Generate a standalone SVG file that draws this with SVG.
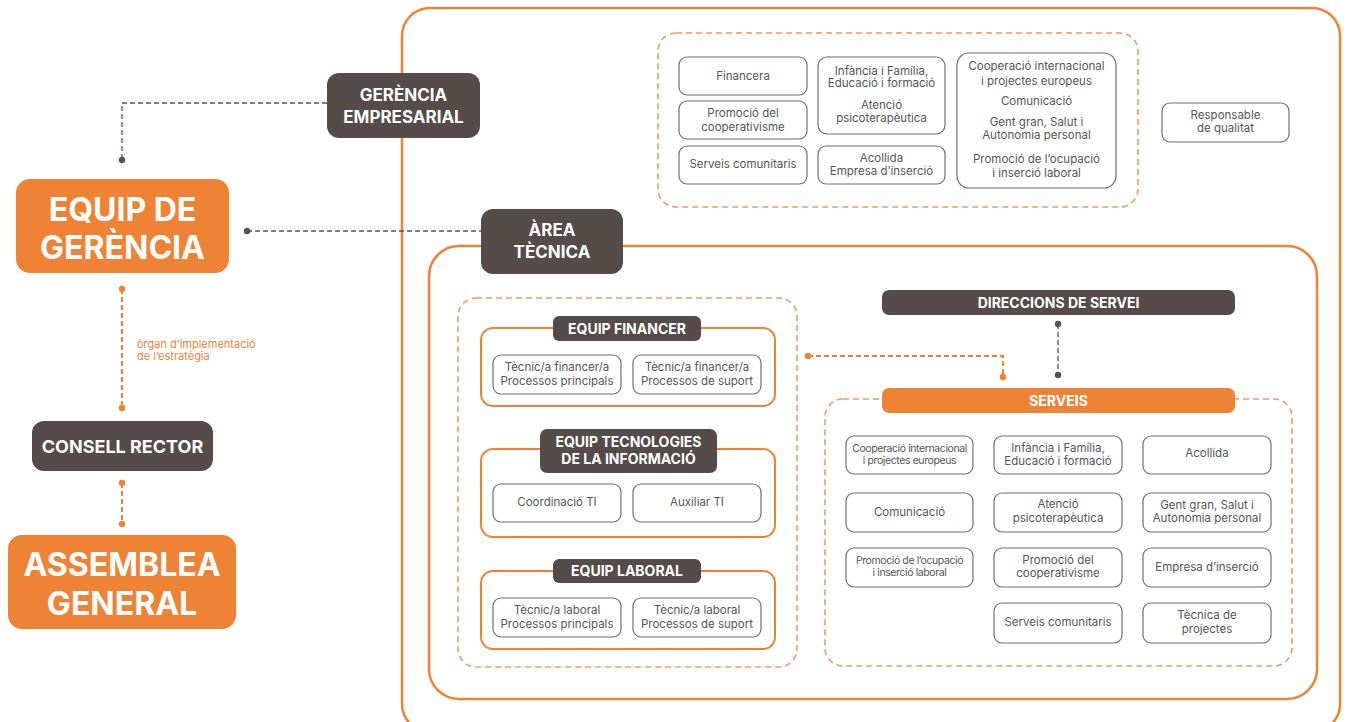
<svg xmlns="http://www.w3.org/2000/svg" width="1349" height="722" viewBox="0 0 1349 722">
<style>
text{font-family:Inter,"Noto Sans","Liberation Sans",sans-serif}
.frame{fill:none;stroke:#EE8336;stroke-width:2.5}
.team{fill:#fff;stroke:#EE8336;stroke-width:2}
.dgrp{fill:none;stroke:#F19A62;stroke-width:1.6;stroke-dasharray:6 4}
.dark{fill:#554B48}
.org{fill:#EE8336}
.box{fill:#fff;stroke:#6f6f6f;stroke-width:1.2}
.big{fill:#fff;font-weight:700;font-size:32px;text-anchor:middle}
.hd{fill:#fff;font-weight:700;font-size:17px;text-anchor:middle}
.lb{fill:#fff;font-weight:700;font-size:14px;text-anchor:middle}
.t{fill:#555;font-size:11.5px;text-anchor:middle}
.ts{fill:#555;font-size:10.5px;text-anchor:middle;letter-spacing:-0.4px}
.cg{fill:none;stroke:#5a5250;stroke-width:1.3;stroke-dasharray:5 3}
.co{fill:none;stroke:#EE8336;stroke-width:2;stroke-dasharray:5 3}
.dg{fill:#5a5250}
.do{fill:#EE8336}
</style>

<!-- frames -->
<rect class="frame" x="402" y="8" width="938" height="724" rx="28"/>
<rect class="frame" x="429" y="246" width="888" height="453" rx="30"/>
<rect class="dgrp" x="658" y="33" width="480" height="174" rx="18"/>
<rect class="dgrp" x="458" y="298" width="339" height="369" rx="18"/>
<rect class="dgrp" x="825" y="399" width="467" height="267" rx="18"/>

<!-- connectors -->
<g id="connectors">
<path class="cg" d="M327,103 H122 V160"/>
<circle class="dg" cx="122" cy="160" r="3.2"/>
<path class="cg" d="M247,231 H481"/>
<circle class="dg" cx="247" cy="231" r="3.2"/>
<path class="co" d="M122,289 V408"/>
<circle class="do" cx="122" cy="289" r="3.2"/>
<circle class="do" cx="122" cy="408" r="3.2"/>
<path class="co" d="M122,483 V524"/>
<circle class="do" cx="122" cy="483" r="3.2"/>
<circle class="do" cx="122" cy="524" r="3.2"/>
<path class="cg" d="M1058,324 V375"/>
<circle class="dg" cx="1058" cy="324" r="3.2"/>
<circle class="dg" cx="1058" cy="375" r="3.2"/>
<path class="co" d="M808,356 H1003 V377"/>
<circle class="do" cx="808" cy="356" r="3.2"/>
<circle class="do" cx="1003" cy="377" r="3.2"/>
<text x="137" y="348" style="fill:#EE8336;font-size:11px">òrgan d’implementació</text>
<text x="137" y="360" style="fill:#EE8336;font-size:11px">de l’estratègia</text>
</g>

<!-- left column -->
<g id="gerencia-empresarial">
<rect class="dark" x="327" y="73" width="153" height="65" rx="12"/>
<text class="hd" x="403.5" y="101">GERÈNCIA</text>
<text class="hd" x="403.5" y="123">EMPRESARIAL</text>
</g>
<g id="equip-gerencia">
<rect class="org" x="16" y="179" width="213" height="94" rx="14"/>
<text class="big" x="122.5" y="221">EQUIP DE</text>
<text class="big" x="122.5" y="259">GERÈNCIA</text>
</g>
<g id="consell-rector">
<rect class="dark" x="32" y="421" width="181" height="50" rx="12"/>
<text class="hd" x="122.5" y="452.5" style="font-size:18px">CONSELL RECTOR</text>
</g>
<g id="assemblea-general">
<rect class="org" x="8" y="535" width="228" height="94" rx="14"/>
<text class="big" x="122" y="576">ASSEMBLEA</text>
<text class="big" x="122" y="615">GENERAL</text>
</g>
<g id="area-tecnica">
<rect class="dark" x="481" y="209" width="142" height="65" rx="12"/>
<text class="hd" x="552" y="236">ÀREA</text>
<text class="hd" x="552" y="258">TÈCNICA</text>
</g>

<!-- top group -->
<g id="top-financera"><rect class="box" x="679" y="57" width="128" height="38" rx="8"/><text class="t" x="743" y="80">Financera</text></g>
<g id="top-promocio"><rect class="box" x="679" y="101" width="128" height="38" rx="8"/><text class="t" x="743" y="117">Promoció del</text><text class="t" x="743" y="131">cooperativisme</text></g>
<g id="top-serveis"><rect class="box" x="679" y="146" width="128" height="38" rx="8"/><text class="t" x="743" y="168">Serveis comunitaris</text></g>
<g id="top-infancia"><rect class="box" x="818" y="57" width="127" height="77" rx="9"/>
<text class="t" x="881.5" y="75">Infància i Família,</text><text class="t" x="881.5" y="87">Educació i formació</text>
<text class="t" x="881.5" y="109">Atenció</text><text class="t" x="881.5" y="122">psicoterapèutica</text></g>
<g id="top-acollida"><rect class="box" x="818" y="146" width="127" height="38" rx="8"/><text class="t" x="881.5" y="162">Acollida</text><text class="t" x="881.5" y="175">Empresa d’inserció</text></g>
<g id="top-right"><rect class="box" x="957" y="53" width="159" height="135" rx="12"/>
<text class="t" x="1036.5" y="70">Cooperació internacional</text><text class="t" x="1036.5" y="85">i projectes europeus</text>
<text class="t" x="1036.5" y="105">Comunicació</text>
<text class="t" x="1036.5" y="126">Gent gran, Salut i</text><text class="t" x="1036.5" y="139">Autonomia personal</text>
<text class="t" x="1036.5" y="163">Promoció de l’ocupació</text><text class="t" x="1036.5" y="177">i inserció laboral</text></g>
<g id="responsable"><rect class="box" x="1162" y="103" width="127" height="39" rx="8"/><text class="t" x="1225.5" y="119">Responsable</text><text class="t" x="1225.5" y="132">de qualitat</text></g>

<!-- teams -->
<g id="equip-financer">
<rect class="team" x="481" y="328" width="294" height="78" rx="12"/>
<rect class="dark" x="553" y="316" width="148" height="25" rx="6"/>
<text class="lb" x="627" y="334">EQUIP FINANCER</text>
<rect class="box" x="493" y="355" width="128" height="39" rx="8"/><text class="t" x="557" y="371">Tècnic/a financer/a</text><text class="t" x="557" y="385">Processos principals</text>
<rect class="box" x="633" y="355" width="128" height="39" rx="8"/><text class="t" x="697" y="371">Tècnic/a financer/a</text><text class="t" x="697" y="385">Processos de suport</text>
</g>
<g id="equip-ti">
<rect class="team" x="481" y="449" width="294" height="88" rx="12"/>
<rect class="dark" x="540" y="429" width="177" height="44" rx="7"/>
<text class="lb" x="628.5" y="447">EQUIP TECNOLOGIES</text>
<text class="lb" x="628.5" y="464">DE LA INFORMACIÓ</text>
<rect class="box" x="493" y="484" width="128" height="38" rx="8"/><text class="t" x="557" y="506">Coordinació TI</text>
<rect class="box" x="633" y="484" width="128" height="38" rx="8"/><text class="t" x="697" y="506">Auxiliar TI</text>
</g>
<g id="equip-laboral">
<rect class="team" x="481" y="571" width="294" height="78" rx="12"/>
<rect class="dark" x="553" y="559" width="148" height="24" rx="6"/>
<text class="lb" x="627" y="576">EQUIP LABORAL</text>
<rect class="box" x="493" y="598" width="128" height="39" rx="8"/><text class="t" x="557" y="614">Tècnic/a laboral</text><text class="t" x="557" y="628">Processos principals</text>
<rect class="box" x="633" y="598" width="128" height="39" rx="8"/><text class="t" x="697" y="614">Tècnic/a laboral</text><text class="t" x="697" y="628">Processos de suport</text>
</g>

<!-- direccions / serveis -->
<g id="direccions">
<rect class="dark" x="882" y="290" width="353" height="25" rx="7"/>
<text class="lb" x="1058.5" y="308">DIRECCIONS DE SERVEI</text>
</g>
<g id="serveis">
<rect class="org" x="882" y="388" width="353" height="25" rx="7"/>
<text class="lb" x="1058.5" y="406">SERVEIS</text>
</g>

<g id="s-cooperacio"><rect class="box" x="846" y="436" width="127" height="38" rx="8"/><text class="ts" x="909.5" y="452">Cooperació internacional</text><text class="ts" x="909.5" y="464">i projectes europeus</text></g>
<g id="s-infancia"><rect class="box" x="994" y="436" width="128" height="38" rx="8"/><text class="t" x="1058" y="452">Infància i Família,</text><text class="t" x="1058" y="465">Educació i formació</text></g>
<g id="s-acollida"><rect class="box" x="1143" y="436" width="128" height="38" rx="8"/><text class="t" x="1207" y="457">Acollida</text></g>
<g id="s-comunicacio"><rect class="box" x="846" y="493" width="127" height="39" rx="8"/><text class="t" x="909.5" y="516">Comunicació</text></g>
<g id="s-atencio"><rect class="box" x="994" y="493" width="128" height="39" rx="8"/><text class="t" x="1058" y="508">Atenció</text><text class="t" x="1058" y="522">psicoterapèutica</text></g>
<g id="s-gent"><rect class="box" x="1143" y="493" width="128" height="39" rx="8"/><text class="t" x="1207" y="509">Gent gran, Salut i</text><text class="t" x="1207" y="522">Autonomia personal</text></g>
<g id="s-promocio-ocupacio"><rect class="box" x="846" y="548" width="127" height="39" rx="8"/><text class="ts" x="909.5" y="564">Promoció de l’ocupació</text><text class="ts" x="909.5" y="576">i inserció laboral</text></g>
<g id="s-promocio-coop"><rect class="box" x="994" y="548" width="128" height="39" rx="8"/><text class="t" x="1058" y="564">Promoció del</text><text class="t" x="1058" y="577">cooperativisme</text></g>
<g id="s-empresa"><rect class="box" x="1143" y="548" width="128" height="39" rx="8"/><text class="t" x="1207" y="571">Empresa d’inserció</text></g>
<g id="s-serveis-com"><rect class="box" x="994" y="603" width="128" height="40" rx="8"/><text class="t" x="1058" y="626">Serveis comunitaris</text></g>
<g id="s-tecnica"><rect class="box" x="1143" y="603" width="128" height="40" rx="8"/><text class="t" x="1207" y="619">Tècnica de</text><text class="t" x="1207" y="633">projectes</text></g>
</svg>
